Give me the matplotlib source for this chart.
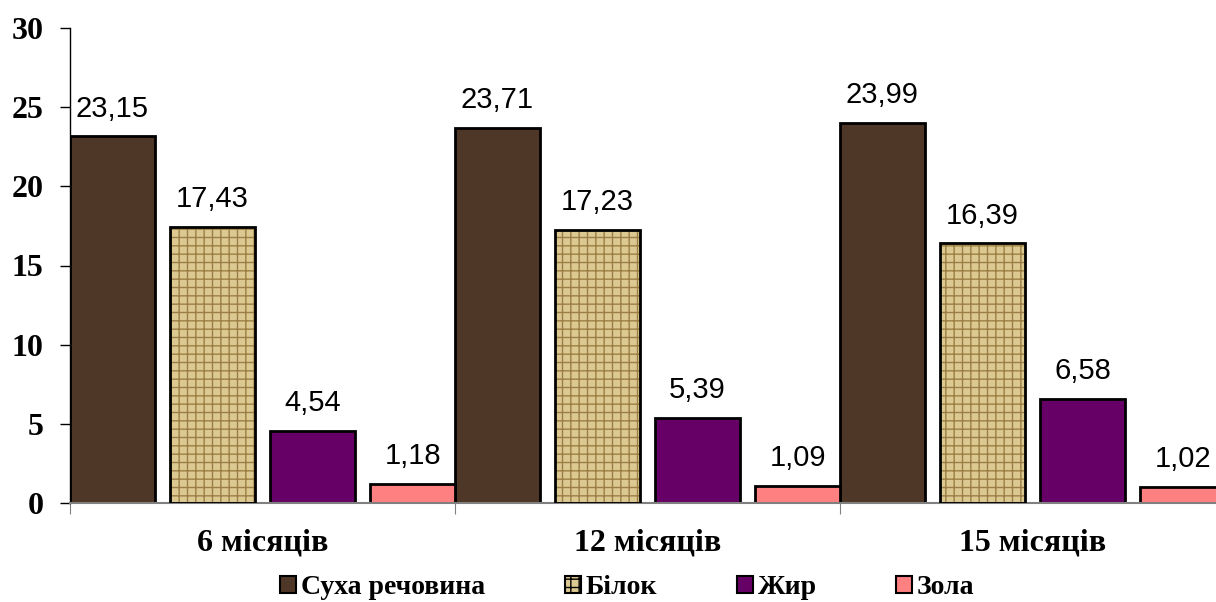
import numpy as np
import matplotlib
matplotlib.use("Agg")
import matplotlib.pyplot as plt
from matplotlib.patches import Patch

# chemical composition of meat by age, %
ages = ["6 місяців", "12 місяців", "15 місяців"]
series = ["Суха речовина", "Білок", "Жир", "Зола"]
dry_matter = [23.15, 23.71, 23.99]
protein = [17.43, 17.23, 16.39]
fat = [4.54, 5.39, 6.58]
ash = [1.18, 1.09, 1.02]
yticks = [0, 5, 10, 15, 20, 25, 30]

values = [dry_matter, protein, fat, ash]
colors = ["#4e3726", "#dcc891", "#660066", "#ff8080"]
hatches = [None, "++", None, None]
hatch_colors = [None, "#9c7f45", None, None]

serif = "Liberation Serif"
sans = "Liberation Sans"

fig = plt.figure(figsize=(12.16, 6.02), dpi=100)
ax = fig.add_axes([70 / 1216, 99 / 602, 1155 / 1216, 475 / 602])

width = 0.22
step = 0.26
for j, (vals, c) in enumerate(zip(values, colors)):
    x = np.arange(len(ages)) + j * step + width / 2
    if hatches[j]:
        ax.bar(x, vals, width, color=c, edgecolor=hatch_colors[j],
               hatch=hatches[j], linewidth=0, zorder=2)
        ax.bar(x, vals, width, fill=False, edgecolor="black",
               linewidth=2, zorder=3)
    else:
        ax.bar(x, vals, width, color=c, edgecolor="black",
               linewidth=2, zorder=2)
    for xi, v in zip(x, vals):
        ax.annotate(f"{v:.2f}".replace(".", ","), (xi, v),
                    xytext=(0, 10), textcoords="offset points",
                    ha="center", va="bottom", fontsize=21, family=sans)

ax.set_xlim(0, 3)
ax.set_ylim(0, 30)
ax.set_yticks(yticks)
ax.set_yticklabels([str(t) for t in yticks], fontsize=23,
                   family=serif, fontweight="bold")
ax.set_xticks([0, 1, 2])
ax.set_xticklabels([])
ax.set_xticks(np.arange(len(ages)) + 0.5, minor=True)
ax.set_xticklabels(ages, minor=True, fontsize=23, family=serif,
                   fontweight="bold")
ax.tick_params(axis="x", which="minor", length=0, pad=18)
ax.tick_params(axis="x", which="major", length=8, color="#808080")
ax.tick_params(axis="y", length=7, width=1, pad=12)

for s in ["top", "right"]:
    ax.spines[s].set_visible(False)
ax.spines["bottom"].set_color("#808080")
ax.spines["bottom"].set_linewidth(1.5)
ax.spines["left"].set_linewidth(1)

handles = [Patch(facecolor=c, edgecolor="black", linewidth=1.5,
                 hatch=h) for c, h in zip(colors, hatches)]
fig.legend(handles, series, loc="center", bbox_to_anchor=(0.516, 0.024),
           ncol=4, frameon=False, handlelength=0.58, handleheight=0.58,
           handletextpad=0.18, columnspacing=2.85, borderpad=0.2,
           prop={"family": serif, "weight": "bold", "size": 20})

fig.savefig("out.png", dpi=100)
